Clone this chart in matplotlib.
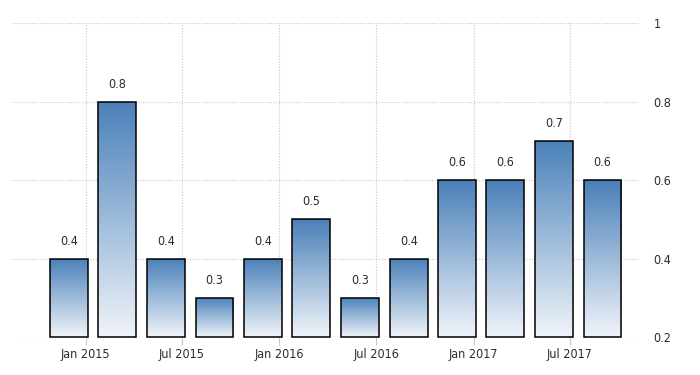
import datetime as dt

import matplotlib
matplotlib.use("Agg")
import matplotlib.dates as mdates
import matplotlib.pyplot as plt
import numpy as np
from matplotlib.colors import LinearSegmentedColormap

# quarterly values, bars dated at the start of the last month of each quarter
PERIODS = ["2014-12", "2015-03", "2015-06", "2015-09", "2015-12", "2016-03",
           "2016-06", "2016-09", "2016-12", "2017-03", "2017-06", "2017-09"]
VALUES = [0.4, 0.8, 0.4, 0.3, 0.4, 0.5, 0.3, 0.4, 0.6, 0.6, 0.7, 0.6]
TICK_DATES = ["2015-01", "2015-07", "2016-01", "2016-07", "2017-01", "2017-07"]
TICK_LABELS = ["Jan 2015", "Jul 2015", "Jan 2016", "Jul 2016", "Jan 2017", "Jul 2017"]
Y_TICKS = [0.2, 0.4, 0.6, 0.8, 1.0]
Y_LABELS = ["0.2", "0.4", "0.6", "0.8", "1"]
BASE = 0.2

TEXT_COLOR = "#2b2b2b"
GRID_COLOR = "#c8c8c8"
FONT = dict(family="DejaVu Sans", stretch="condensed", weight="normal",
            fontsize=9, color=TEXT_COLOR)


def to_num(s):
    y, m = s.split("-")
    return mdates.date2num(dt.date(int(y), int(m), 1))


x = np.array([to_num(p) for p in PERIODS])
heights = [v - BASE for v in VALUES]
width = 71  # days

fig = plt.figure(figsize=(7, 3.75), dpi=100)
ax = fig.add_axes([0.017, 0.1013, 0.897, 0.837])

cmap = LinearSegmentedColormap.from_list("grad", ["#f0f4f9", "#9dbbda", "#4a80b8"])
gradient = np.linspace(0, 1, 256).reshape(-1, 1)

bars = ax.bar(x, heights, width=width, bottom=BASE, color="none",
              edgecolor="black", linewidth=1.1, zorder=3, clip_on=False)
for bar, v in zip(bars, VALUES):
    x0 = bar.get_x()
    im = ax.imshow(gradient, cmap=cmap, aspect="auto", origin="lower",
                   extent=[x0, x0 + width, BASE, v], zorder=2)
    im.set_clip_path(bar)
    ax.text(x0 + width / 2, v + 0.028, f"{v:.1f}", ha="center", va="bottom",
            zorder=4, **FONT)

ax.set_xlim(to_num("2014-08") + 14, to_num("2017-11") + 9)
ax.set_ylim(0.2, 1.0)

ax.yaxis.tick_right()
ax.set_xticks([to_num(t) for t in TICK_DATES])
ax.set_xticklabels(TICK_LABELS, **FONT)
ax.set_yticks(Y_TICKS)
ax.set_yticklabels(Y_LABELS, **FONT)
ax.tick_params(axis="y", length=0, pad=10)
ax.tick_params(axis="x", length=6, color=GRID_COLOR, pad=2)

ax.grid(True, color=GRID_COLOR, linestyle=(0, (1, 1.5)), linewidth=0.8, zorder=0)
for sp in ax.spines.values():
    sp.set_visible(False)

fig.savefig("out.png", dpi=100)
